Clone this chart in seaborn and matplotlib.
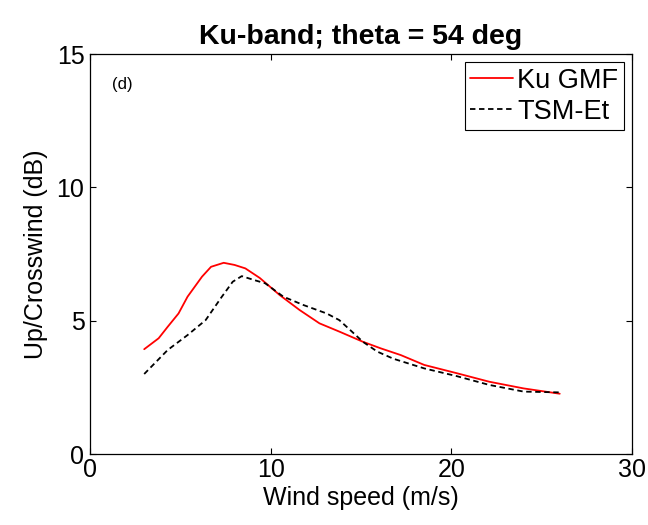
import matplotlib
matplotlib.use("Agg")
import matplotlib.pyplot as plt
import seaborn as sns
import pandas as pd

# Data
ku_ws = [3.0, 3.8, 4.3, 4.9, 5.4, 6.2, 6.7, 7.4, 8.0, 8.6, 9.4, 10.5, 11.6, 12.7, 13.8, 15.1, 16.1, 17.2, 18.5, 20.3, 22.1, 24.0, 26.0]
ku_gmf = [3.93, 4.34, 4.77, 5.27, 5.9, 6.65, 7.02, 7.17, 7.09, 6.96, 6.6, 5.96, 5.4, 4.9, 4.59, 4.21, 3.96, 3.71, 3.34, 3.03, 2.71, 2.46, 2.26]

tsm_ws = [3.0, 4.3, 5.4, 6.4, 7.3, 7.9, 8.4, 9.1, 9.7, 10.7, 11.8, 13.1, 13.8, 14.4, 15.1, 15.9, 16.8, 18.5, 20.3, 22.1, 24.0, 26.0]
tsm_et = [3.0, 3.9, 4.46, 5.02, 5.9, 6.46, 6.67, 6.52, 6.4, 5.9, 5.59, 5.27, 5.02, 4.65, 4.21, 3.84, 3.57, 3.21, 2.92, 2.59, 2.34, 2.31]

series_names = ["Ku GMF", "TSM-Et"]
x_ticks = [0, 10, 20, 30]
y_ticks = [0, 5, 10, 15]
title = "Ku-band; theta = 54 deg"
x_label = "Wind speed (m/s)"
y_label = "Up/Crosswind (dB)"
panel_label = "(d)"

sns.set_style("ticks")
plt.rcParams["font.family"] = ["Liberation Sans", "DejaVu Sans"]
plt.rcParams["text.color"] = "black"
plt.rcParams["axes.labelcolor"] = "black"

fig = plt.figure(figsize=(6.48, 5.25), dpi=100)
ax = fig.add_axes([90 / 648, 1 - 454 / 525, (632 - 90) / 648, (454 - 54) / 525])

df_ku = pd.DataFrame({"ws": ku_ws, "val": ku_gmf})
df_tsm = pd.DataFrame({"ws": tsm_ws, "val": tsm_et})

sns.lineplot(data=df_ku, x="ws", y="val", ax=ax, color="red", linewidth=1.3,
             sort=False, label=series_names[0])
sns.lineplot(data=df_tsm, x="ws", y="val", ax=ax, color="black", linewidth=1.3,
             sort=False, label=series_names[1])
ax.lines[1].set_dashes([3, 2])

ax.set_xlim(0, 30)
ax.set_ylim(0, 15)
ax.set_xticks(x_ticks)
ax.set_yticks(y_ticks)
ax.tick_params(direction="in", length=4, width=0.8, top=True, right=True,
               labelsize=18, colors="black")
ax.tick_params(axis="x", pad=3)
ax.tick_params(axis="y", pad=4)
for s in ax.spines.values():
    s.set_visible(True)
    s.set_color("black")
    s.set_linewidth(0.9)

ax.set_xlabel(x_label, fontsize=18, labelpad=3, color="black")
ax.set_ylabel(y_label, fontsize=18, labelpad=6, color="black")
ax.set_title(title, fontsize=20.5, fontweight="bold", pad=7, color="black")

ax.text(1.2, 13.85, panel_label, fontsize=12, va="center", ha="left", color="black")

leg = ax.legend(loc="upper right", fontsize=19.5, frameon=True, fancybox=False,
                framealpha=1, edgecolor="black", handlelength=1.6,
                handletextpad=0.15, borderpad=0.2, labelspacing=0.2,
                borderaxespad=0.3)
leg.get_frame().set_linewidth(0.8)
for t in leg.get_texts():
    t.set_color("black")

fig.savefig("out.png", dpi=100)
